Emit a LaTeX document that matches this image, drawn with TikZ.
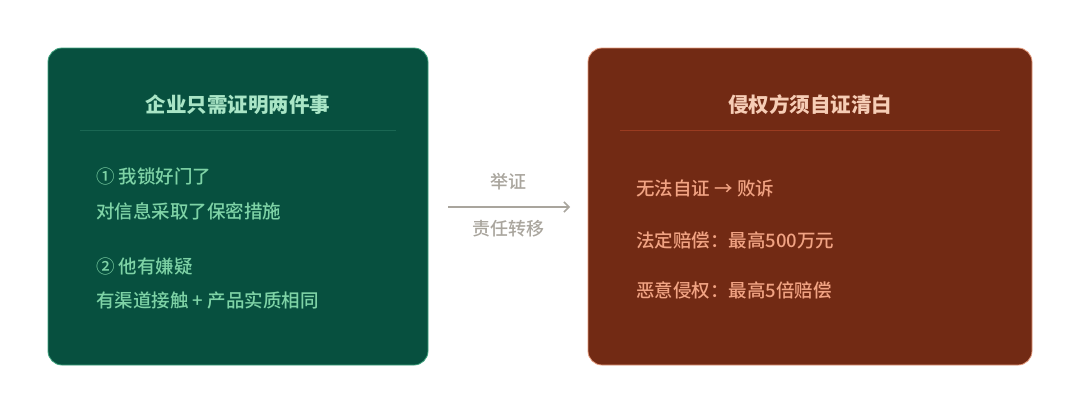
\documentclass[tikz,border=0pt]{standalone}
\usepackage{fontspec}
\setmainfont{Noto Sans CJK SC}
\newfontfamily\medfont{Noto Sans CJK SC Medium}
\usetikzlibrary{arrows.meta}
\definecolor{gfill}{HTML}{07503F}
\definecolor{gborder}{HTML}{3FA37E}
\definecolor{gtitle}{HTML}{A9E5C6}
\definecolor{gtext}{HTML}{7ED3A6}
\definecolor{gline}{HTML}{1A6753}
\definecolor{rfill}{HTML}{722A14}
\definecolor{rborder}{HTML}{E49A7C}
\definecolor{rtitle}{HTML}{F6CDB6}
\definecolor{rtext}{HTML}{F1A383}
\definecolor{rline}{HTML}{9A3B20}
\definecolor{arrowc}{HTML}{A9A59D}
\tikzset{
  panel/.style={rounded corners=14pt, line width=0.8pt},
  ttl/.style={font=\bfseries\fontsize{20.5}{23}\selectfont, anchor=center, inner sep=0pt},
  item/.style={font=\medfont\fontsize{18.5}{21}\selectfont, anchor=west, inner sep=0pt},
  lbl/.style={font=\medfont\fontsize{18}{21}\selectfont, text=arrowc, anchor=center, inner sep=0pt},
}
\begin{document}
\begin{tikzpicture}[x=1pt,y=-1pt]
\useasboundingbox (0,0) rectangle (1080,413);
\fill[white] (0,0) rectangle (1080,413);
% left panel
\draw[panel, fill=gfill, draw=gborder] (48,48) rectangle (428,365);
\node[ttl, text=gtitle] (lt) at (238,105) {企业只需证明两件事};
\draw[gline, line width=0.8pt] (80,130) -- (396,130);
\node[item, text=gtext] (l1) at (96,176) {① 我锁好门了};
\node[item, text=gtext] (l2) at (96,211) {对信息采取了保密措施};
\node[item, text=gtext] (l3) at (96,266) {② 他有嫌疑};
\node[item, text=gtext] (l4) at (96,300) {有渠道接触 + 产品实质相同};
% right panel
\draw[panel, fill=rfill, draw=rborder] (588,48) rectangle (1032,365);
\node[ttl, text=rtitle] (rt) at (810,105) {侵权方须自证清白};
\draw[rline, line width=0.8pt] (620,130) -- (1000,130);
\node[item, text=rtext] (r1) at (636,188) {无法自证 → 败诉};
\node[item, text=rtext] (r2) at (636,240) {法定赔偿：最高500万元};
\node[item, text=rtext] (r3) at (636,290) {恶意侵权：最高5倍赔偿};
% arrow
\coordinate (a0) at (448,207);
\coordinate (a1) at (570,207);
\draw[arrowc, line width=1.5pt, -{Straight Barb[length=5pt,width=10pt]}] (a0) -- (a1);
\node[lbl] (up) at (508,182) {举证};
\node[lbl] (dn) at (508,229) {责任转移};
\end{tikzpicture}
\end{document}
